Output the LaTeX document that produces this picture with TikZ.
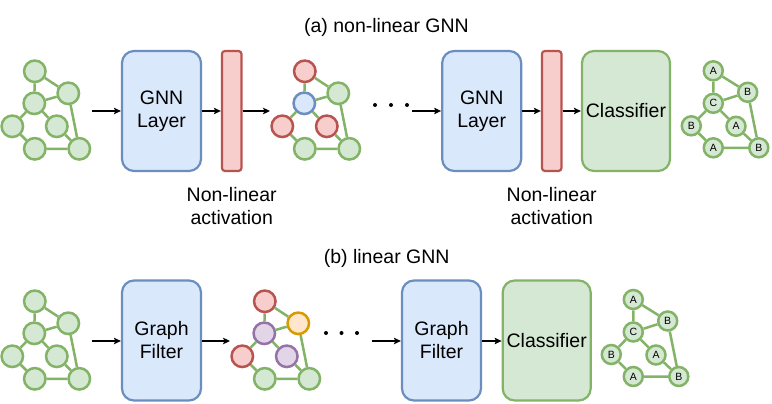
\documentclass[tikz,border=0pt]{standalone}
\usepackage{fontspec}
\setmainfont{Liberation Sans}
\usetikzlibrary{arrows.meta}
\definecolor{gfill}{HTML}{D5E8D4}\definecolor{gdraw}{HTML}{82B366}
\definecolor{bfill}{HTML}{DAE8FC}\definecolor{bdraw}{HTML}{6C8EBF}
\definecolor{rfill}{HTML}{F8CECC}\definecolor{rdraw}{HTML}{B85450}
\definecolor{ofill}{HTML}{FFE6CC}\definecolor{odraw}{HTML}{D79B00}
\definecolor{pfill}{HTML}{E1D5E7}\definecolor{pdraw}{HTML}{9673A6}
\tikzset{
  gn/.style={circle, minimum size=21.5pt, inner sep=0pt, line width=2.5pt, draw=gdraw, fill=gfill},
  rn/.style={gn, draw=rdraw, fill=rfill},
  bn/.style={gn, draw=bdraw, fill=bfill},
  on/.style={gn, draw=odraw, fill=ofill},
  pn/.style={gn, draw=pdraw, fill=pfill},
  ln/.style={gn, minimum size=19pt, font=\fontsize{10.5}{12}\selectfont},
  gedge/.style={draw=gdraw, line width=2.5pt},
  bigtext/.style={font=\fontsize{19.5}{23}\selectfont, align=center},
  bluebox/.style={bigtext, draw=bdraw, fill=bfill, rounded corners=12pt, line width=2.2pt, minimum width=79pt, minimum height=120pt, inner sep=0pt},
  greenbox/.style={bluebox, draw=gdraw, fill=gfill, minimum width=88pt},
  actbar/.style={draw=rdraw, fill=rfill, rounded corners=3pt, line width=2.2pt, minimum width=19.5pt, minimum height=120pt, inner sep=0pt},
  arr/.style={-{Stealth[length=7pt,width=6.5pt,inset=1.5pt]}, line width=1.2pt},
  dotn/.style={circle, fill=black, minimum size=4pt, inner sep=0pt},
}
\newcommand\colgraph[9]{%
  \begin{scope}[shift={#2}]
    \node[#3] (#1t) at (0.5,-32) {};
    \node[#4] (#1r) at (34,-10) {};
    \node[#5] (#1m) at (0,0) {};
    \node[#6] (#1l) at (-22,23) {};
    \node[#7] (#1i) at (22.5,23) {};
    \node[#8] (#1b) at (0.5,45.5) {};
    \node[#9] (#1c) at (45,45.5) {};
    \draw[gedge] (#1t)--(#1m) (#1t)--(#1r) (#1m)--(#1r) (#1m)--(#1l) (#1m)--(#1i)
      (#1l)--(#1b) (#1b)--(#1c) (#1i)--(#1c) (#1r)--(#1c);
  \end{scope}}
\newcommand\labgraph[2]{%
  \begin{scope}[shift={#2}]
    \node[ln] (#1t) at (0,-32.5) {A};
    \node[ln] (#1r) at (34.4,-11) {B};
    \node[ln] (#1m) at (0,0) {C};
    \node[ln] (#1l) at (-22,22.5) {B};
    \node[ln] (#1i) at (22.7,23) {A};
    \node[ln] (#1b) at (0,44.5) {A};
    \node[ln] (#1c) at (45.5,44.5) {B};
    \draw[gedge] (#1t)--(#1m) (#1t)--(#1r) (#1m)--(#1r) (#1m)--(#1l) (#1m)--(#1i)
      (#1l)--(#1b) (#1b)--(#1c) (#1i)--(#1c) (#1r)--(#1c);
  \end{scope}}
\begin{document}
\begin{tikzpicture}[x=1pt,y=-1pt]
\useasboundingbox (0,0) rectangle (772,404);
% titles
\node[bigtext] (ta) at (386.5,27) {(a) non-linear GNN};
\node[bigtext] (tb) at (386.7,258) {(b) linear GNN};
% ---- row (a)
\colgraph{ga}{(34.3,103.3)}{gn}{gn}{gn}{gn}{gn}{gn}{gn}
\node[bluebox] (gnn1) at (161.5,111) {GNN\\Layer};
\node[actbar] (act1) at (231.7,111) {};
\colgraph{gb}{(304.3,103.3)}{rn}{gn}{bn}{rn}{rn}{gn}{gn}
\node[dotn] (d1) at (375,105) {};
\node[dotn] (d2) at (391,105) {};
\node[dotn] (d3) at (407,105) {};
\node[bluebox] (gnn2) at (481.7,111) {GNN\\Layer};
\node[actbar] (act2) at (551.7,111) {};
\node[greenbox] (cls1) at (626,111) {Classifier};
\labgraph{gc}{(713.3,103.3)}
\node[bigtext] (na1) at (231.7,206.5) {Non-linear\\activation};
\node[bigtext] (na2) at (551.7,206.5) {Non-linear\\activation};
\coordinate (a0) at (92,111);
\coordinate (a1) at (270,111);
\coordinate (a2) at (412,111);
\draw[arr] (a0) -- (gnn1.west);
\draw[arr] (gnn1.east) -- (act1.west);
\draw[arr] (act1.east) -- (a1);
\draw[arr] (a2) -- (gnn2.west);
\draw[arr] (gnn2.east) -- (act2.west);
\draw[arr] (act2.east) -- (cls1.west);
% ---- row (b)
\colgraph{gd}{(34.3,333.3)}{gn}{gn}{gn}{gn}{gn}{gn}{gn}
\node[bluebox] (gf1) at (161.5,340.5) {Graph\\Filter};
\colgraph{ge}{(264.3,333.3)}{rn}{on}{pn}{rn}{pn}{gn}{gn}
\node[dotn] (d4) at (326,333) {};
\node[dotn] (d5) at (341.5,333) {};
\node[dotn] (d6) at (357,333) {};
\node[bluebox] (gf2) at (441.5,340.5) {Graph\\Filter};
\node[greenbox] (cls2) at (546.7,340.5) {Classifier};
\labgraph{gf}{(633.3,332)}
\coordinate (b0) at (92,341);
\coordinate (b1) at (230,341);
\coordinate (b2) at (372,341);
\draw[arr] (b0) -- (gf1.west |- b0);
\draw[arr] (gf1.east |- b0) -- (b1);
\draw[arr] (b2) -- (gf2.west |- b2);
\draw[arr] (gf2.east |- b2) -- (cls2.west |- b2);
\end{tikzpicture}
\end{document}
